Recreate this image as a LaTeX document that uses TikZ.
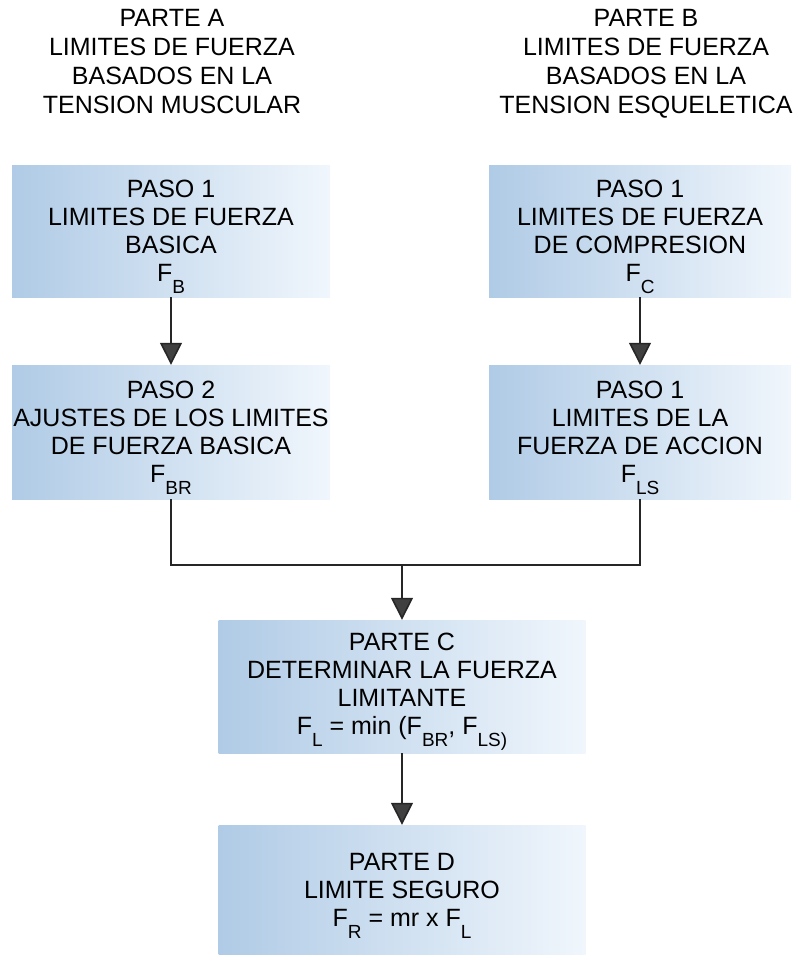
\documentclass[tikz,border=0pt]{standalone}
\usepackage{fontspec}
\setmainfont{Liberation Sans}
\usetikzlibrary{arrows.meta}
\definecolor{boxL}{RGB}{176,203,230}
\definecolor{boxM}{RGB}{200,220,240}
\definecolor{boxR}{RGB}{240,246,252}
\newcommand{\sbs}[1]{\raisebox{-12pt}[0pt][0pt]{\fontsize{19}{19}\selectfont #1}}
\tikzset{
  box/.style={rectangle, left color=boxL, middle color=boxM, right color=boxR, draw=none, align=center,
    inner sep=0pt, font=\fontsize{25}{28}\selectfont},
  hdr/.style={align=center, inner sep=0pt, font=\fontsize{25}{29}\selectfont},
  arr/.style={line width=1.6pt, draw=black!85, -{Triangle[width=22pt,length=22pt,fill=black!75]}},
  conn/.style={line width=1.6pt, draw=black!85}
}
\begin{document}
\begin{tikzpicture}[x=1pt,y=-1pt]
\useasboundingbox (0,0) rectangle (792,955);
\node[hdr] (ha) at (172,62) {PARTE A\\LIMITES DE FUERZA\\BASADOS EN LA\\TENSION MUSCULAR};
\node[hdr] (hb) at (646,64) {PARTE B\\LIMITES DE FUERZA\\BASADOS EN LA\\TENSION ESQUELETICA};

\node[box, minimum width=318pt, minimum height=132pt] (l1) at (171,231)
  {PASO 1\\LIMITES DE FUERZA\\BASICA\\F\sbs{B}};
\node[box, minimum width=302pt, minimum height=132pt] (r1) at (640,231)
  {PASO 1\\LIMITES DE FUERZA\\DE COMPRESION\\F\sbs{C}};
\node[box, minimum width=318pt, minimum height=134pt] (l2) at (171,432)
  {PASO 2\\AJUSTES DE LOS LIMITES\\DE FUERZA BASICA\\F\sbs{BR}};
\node[box, minimum width=302pt, minimum height=134pt] (r2) at (640,432)
  {PASO 1\\LIMITES DE LA\\FUERZA DE ACCION\\F\sbs{LS}};
\node[box, minimum width=367pt, minimum height=133pt] (c) at (402,686.5)
  {PARTE C\\DETERMINAR LA FUERZA\\LIMITANTE\\F\sbs{L} = min (F\sbs{BR}, F\sbs{LS)}};
\node[box, minimum width=367pt, minimum height=130pt] (d) at (402,890)
  {PARTE D\\LIMITE SEGURO\\F\sbs{R} = mr x F\sbs{L}};

\coordinate (j) at (402,565);
\draw[arr] (l1.south) -- (l2.north);
\draw[arr] (r1.south) -- (r2.north);
\draw[conn] (l2.south) |- (j) -| (r2.south);
\draw[arr] (j) -- (c.north);
\draw[arr] (c.south) -- (d.north);
\end{tikzpicture}
\end{document}
